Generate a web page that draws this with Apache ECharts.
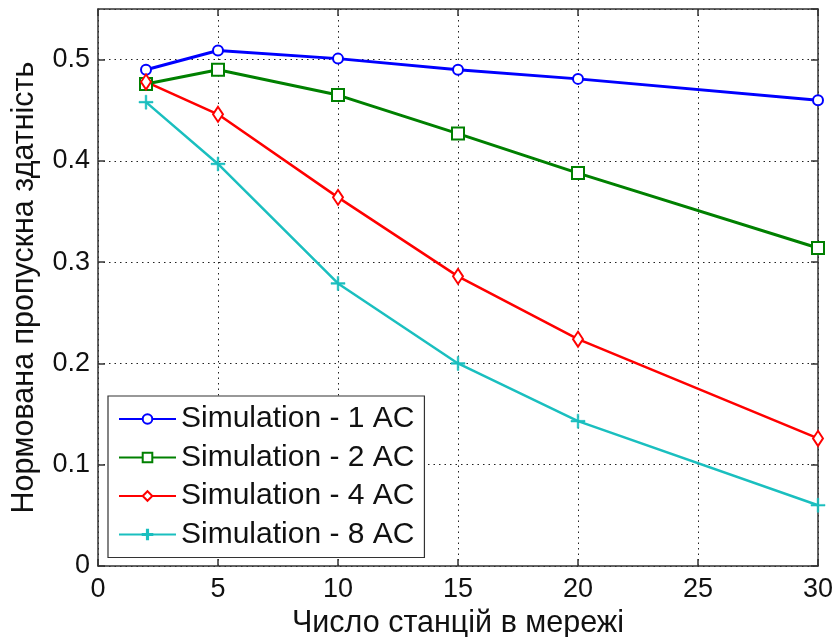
<!DOCTYPE html>
<html style="height: 100%;width: 100%">
<head>
    <meta charset="utf-8">
    <script src="https://cdn.jsdelivr.net/npm/echarts@6/dist/echarts.min.js"></script>
</head>
<body style="height: 100%;width: 100%;margin: 0;background: #fff">
<div id="container" style="width: 837px;height: 637px"></div>
<script type="text/javascript">
// stations in network
var stations = [2, 5, 10, 15, 20, 30];
var seriesNames = ['Simulation - 1 AC', 'Simulation - 2 AC', 'Simulation - 4 AC', 'Simulation - 8 AC'];
var ac1 = [0.490, 0.509, 0.501, 0.490, 0.481, 0.460];
var ac2 = [0.476, 0.490, 0.465, 0.427, 0.388, 0.314];
var ac4 = [0.478, 0.446, 0.364, 0.286, 0.224, 0.126];
var ac8 = [0.458, 0.397, 0.279, 0.200, 0.143, 0.060];

var font = "'Liberation Sans', Arial, sans-serif";
var plus = 'path://M4.4,0h1.2v4.4h4.4v1.2h-4.4v4.4h-1.2v-4.4h-4.4v-1.2h4.4z';

function pairs(vals) {
    var out = [];
    for (var i = 0; i < stations.length; i++) {
        out.push([stations[i], vals[i]]);
    }
    return out;
}

function line(name, vals, color, symbol, size, width, bw) {
    return {
        name: name,
        type: 'line',
        data: pairs(vals),
        symbol: symbol,
        symbolSize: size,
        showAllSymbol: true,
        lineStyle: {color: color, width: width},
        itemStyle: {color: color, borderColor: color, borderWidth: bw},
        z: 5
    };
}

var dom = document.getElementById('container');
var myChart = echarts.init(dom);

var gridLine = {show: true, lineStyle: {color: '#222', type: [1.5, 4], width: 1}};
var axisLine = {show: true, onZero: false, lineStyle: {color: '#333', width: 1.5}};
var tick = {show: true, inside: true, length: 7, lineStyle: {color: '#333', width: 1.5}};

option = {
    animation: false,
    backgroundColor: '#fff',
    textStyle: {fontFamily: font},
    grid: {left: 98, right: 19, top: 9, bottom: 71, containLabel: false, outerBoundsMode: 'none'},
    legend: {
        orient: 'vertical',
        left: 108,
        top: 396,
        data: seriesNames,
        backgroundColor: '#fff',
        borderColor: '#333',
        borderWidth: 1.2,
        borderRadius: 0,
        padding: [8, 10, 8, 10],
        itemWidth: 57,
        itemHeight: 12,
        itemGap: 8.5,
        textStyle: {fontFamily: font, fontSize: 30, color: '#111'}
    },
    xAxis: [{
        type: 'value',
        min: 0,
        max: 30,
        interval: 5,
        name: 'Число станцій в мережі',
        nameLocation: 'middle',
        nameGap: 36,
        nameTextStyle: {fontFamily: font, fontSize: 30.5, color: '#111', verticalAlign: 'top'},
        axisLine: axisLine,
        axisTick: tick,
        splitLine: gridLine,
        axisLabel: {fontFamily: font, fontSize: 27, color: '#111', margin: 10}
    }, {
        type: 'value',
        position: 'top',
        min: 0,
        max: 30,
        interval: 5,
        axisLine: axisLine,
        axisTick: tick,
        splitLine: {show: false},
        axisLabel: {show: false}
    }],
    yAxis: [{
        type: 'value',
        min: 0,
        max: 0.55,
        interval: 0.1,
        name: 'Нормована пропускна здатність',
        nameLocation: 'middle',
        nameGap: 58,
        nameTextStyle: {fontFamily: font, fontSize: 30.5, color: '#111'},
        axisLine: axisLine,
        axisTick: tick,
        splitLine: gridLine,
        axisLabel: {fontFamily: font, fontSize: 27, color: '#111', margin: 8, showMaxLabel: false}
    }, {
        type: 'value',
        position: 'right',
        min: 0,
        max: 0.55,
        interval: 0.1,
        axisLine: axisLine,
        axisTick: tick,
        splitLine: {show: false},
        axisLabel: {show: false}
    }],
    series: [
        line(seriesNames[0], ac1, '#0000ff', 'emptyCircle', 10, 3, 2),
        line(seriesNames[1], ac2, '#008000', 'emptyRect', 12, 3, 2),
        line(seriesNames[2], ac4, '#ff0000', 'emptyDiamond', [10, 15], 2.5, 2),
        line(seriesNames[3], ac8, '#1abfbf', plus, 14, 2.5, 0.5)
    ]
};

if (option && typeof option === 'object') {
    myChart.setOption(option);
}
</script>
</body>
</html>
